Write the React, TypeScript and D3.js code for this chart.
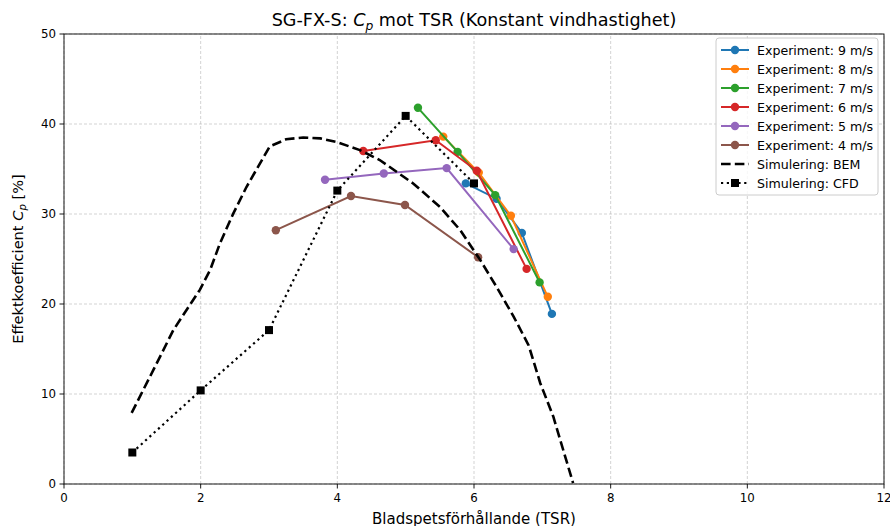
import React from 'react';
import * as d3 from 'd3';

type Pt = [number, number];

const exp9: Pt[] = [[5.88, 33.4], [6.33, 31.7], [6.70, 27.9], [7.14, 18.9]];
const exp8: Pt[] = [[5.55, 38.6], [6.07, 34.6], [6.54, 29.8], [7.08, 20.8]];
const exp7: Pt[] = [[5.18, 41.8], [5.76, 36.9], [6.31, 32.1], [6.96, 22.4]];
const exp6: Pt[] = [[4.38, 37.0], [5.44, 38.2], [6.04, 34.8], [6.77, 23.9]];
const exp5: Pt[] = [[3.82, 33.8], [4.68, 34.5], [5.60, 35.1], [6.58, 26.1]];
const exp4: Pt[] = [[3.10, 28.2], [4.20, 32.0], [4.99, 31.0], [6.06, 25.2]];

const bem: Pt[] = [
  [0.99, 7.9], [1.31, 12.7], [1.6, 17.1], [1.99, 21.6], [2.14, 23.8], [2.28, 26.7],
  [2.48, 30.1], [2.67, 33.0], [3.01, 37.5], [3.25, 38.3], [3.5, 38.5], [3.75, 38.4],
  [3.99, 38.0], [4.33, 37.1], [4.62, 36.0], [5.11, 33.4], [5.5, 30.8], [5.8, 28.2],
  [6.09, 24.9], [6.33, 21.9], [6.58, 18.6], [6.8, 15.4], [6.97, 11.2], [7.16, 7.5],
  [7.45, 0.1],
];
const cfd: Pt[] = [[1, 3.5], [2, 10.4], [3, 17.1], [4, 32.6], [5, 40.9], [6, 33.4]];

const xTicks = [0, 2, 4, 6, 8, 10, 12];
const yTicks = [0, 10, 20, 30, 40, 50];

const experiments = [
  { label: 'Experiment: 9 m/s', color: '#1f77b4', data: exp9 },
  { label: 'Experiment: 8 m/s', color: '#ff7f0e', data: exp8 },
  { label: 'Experiment: 7 m/s', color: '#2ca02c', data: exp7 },
  { label: 'Experiment: 6 m/s', color: '#d62728', data: exp6 },
  { label: 'Experiment: 5 m/s', color: '#9467bd', data: exp5 },
  { label: 'Experiment: 4 m/s', color: '#8c564b', data: exp4 },
];

const W = 890, H = 526;
const m = { left: 64, right: 6, top: 34, bottom: 42 };
const font = 'DejaVu Sans, sans-serif';

export default function App() {
  const x = d3.scaleLinear().domain([0, 12]).range([m.left, W - m.right]);
  const y = d3.scaleLinear().domain([0, 50]).range([H - m.bottom, m.top]);
  const line = d3.line<Pt>().x(d => x(d[0])).y(d => y(d[1]));

  const legendItems = [
    ...experiments.map(e => ({ label: e.label, kind: 'exp', color: e.color })),
    { label: 'Simulering: BEM', kind: 'bem', color: '#000' },
    { label: 'Simulering: CFD', kind: 'cfd', color: '#000' },
  ];

  return (
    <svg width={W} height={H} style={{ position: 'absolute', left: 0, top: 0, fontFamily: font }}>
      <rect width={W} height={H} fill="#fff" />
      {/* grid */}
      {xTicks.map(t => (
        <line key={'gx' + t} x1={x(t)} x2={x(t)} y1={y(0)} y2={y(50)}
          stroke="#b0b0b0" strokeOpacity={0.7} strokeDasharray="3,2" strokeWidth={0.8} />
      ))}
      {yTicks.map(t => (
        <line key={'gy' + t} x1={x(0)} x2={x(12)} y1={y(t)} y2={y(t)}
          stroke="#b0b0b0" strokeOpacity={0.7} strokeDasharray="3,2" strokeWidth={0.8} />
      ))}

      <defs>
        <clipPath id="plot">
          <rect x={x(0)} y={y(50)} width={x(12) - x(0)} height={y(0) - y(50)} />
        </clipPath>
      </defs>

      <g clipPath="url(#plot)">
        {experiments.map(e => (
          <g key={e.label}>
            <path d={line(e.data) || ''} fill="none" stroke={e.color} strokeWidth={2} />
            {e.data.map((d, i) => (
              <circle key={i} cx={x(d[0])} cy={y(d[1])} r={4.2} fill={e.color} />
            ))}
          </g>
        ))}
        <path d={line(bem) || ''} fill="none" stroke="#000" strokeWidth={2.6} strokeDasharray="9.6,4.2" />
        <path d={line(cfd) || ''} fill="none" stroke="#000" strokeWidth={2.2} strokeDasharray="2.2,3.6" />
        {cfd.map((d, i) => (
          <rect key={i} x={x(d[0]) - 4} y={y(d[1]) - 4} width={8} height={8} fill="#000" />
        ))}
      </g>

      {/* frame */}
      <rect x={x(0)} y={y(50)} width={x(12) - x(0)} height={y(0) - y(50)} fill="none" stroke="#000" strokeWidth={0.9} />

      {/* ticks */}
      {xTicks.map(t => (
        <g key={'tx' + t}>
          <line x1={x(t)} x2={x(t)} y1={y(0)} y2={y(0) + 4.5} stroke="#000" strokeWidth={0.9} />
          <text x={x(t)} y={y(0) + 18} textAnchor="middle" fontSize={11.8} fill="#000">{t}</text>
        </g>
      ))}
      {yTicks.map(t => (
        <g key={'ty' + t}>
          <line x1={x(0) - 4.5} x2={x(0)} y1={y(t)} y2={y(t)} stroke="#000" strokeWidth={0.9} />
          <text x={x(0) - 8} y={y(t) + 4} textAnchor="end" fontSize={11.8} fill="#000">{t}</text>
        </g>
      ))}

      {/* labels */}
      <text x={(x(0) + x(12)) / 2} y={H - 2} textAnchor="middle" fontSize={15}>Bladspetsförhållande (TSR)</text>
      <text transform={`translate(23,${(y(0) + y(50)) / 2}) rotate(-90)`} textAnchor="middle" fontSize={14.6}>
        Effektkoefficient <tspan fontStyle="italic">C</tspan>
        <tspan fontStyle="italic" fontSize={10.2} dy={3}>p</tspan>
        <tspan dy={-3}> [%]</tspan>
      </text>
      <text x={(x(0) + x(12)) / 2} y={26} textAnchor="middle" fontSize={17.6}>
        SG-FX-S: <tspan fontStyle="italic">C</tspan>
        <tspan fontStyle="italic" fontSize={12.3} dy={3.5}>p</tspan>
        <tspan dy={-3.5}> mot TSR (Konstant vindhastighet)</tspan>
      </text>

      {/* legend */}
      <g transform="translate(716,38)">
        <rect x={0} y={0} width={162} height={157} rx={3} fill="#fff" fillOpacity={0.8} stroke="#cccccc" strokeWidth={1} />
        {legendItems.map((it, i) => {
          const cy = 12 + i * 19;
          return (
            <g key={it.label}>
              {it.kind === 'exp' && (
                <>
                  <line x1={5} x2={33} y1={cy} y2={cy} stroke={it.color} strokeWidth={2} />
                  <circle cx={19} cy={cy} r={4.2} fill={it.color} />
                </>
              )}
              {it.kind === 'bem' && (
                <line x1={5} x2={33} y1={cy} y2={cy} stroke="#000" strokeWidth={2.6} strokeDasharray="9.6,4.2" />
              )}
              {it.kind === 'cfd' && (
                <>
                  <line x1={5} x2={33} y1={cy} y2={cy} stroke="#000" strokeWidth={2.2} strokeDasharray="2.2,3.6" />
                  <rect x={15} y={cy - 4} width={8} height={8} fill="#000" />
                </>
              )}
              <text x={41} y={cy + 4.5} fontSize={12.6} fill="#000">{it.label}</text>
            </g>
          );
        })}
      </g>
    </svg>
  );
}
